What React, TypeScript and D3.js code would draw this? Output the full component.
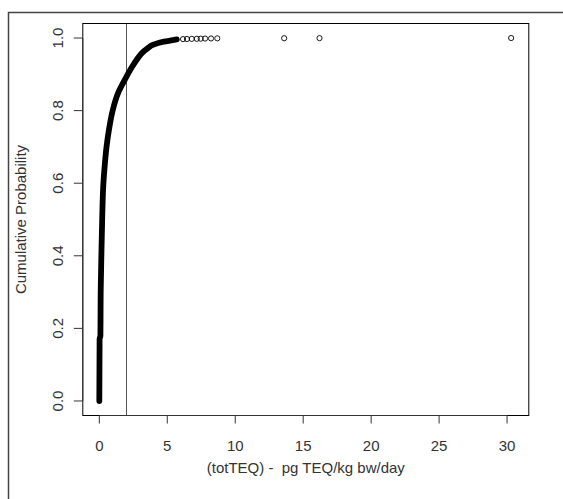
import React from "react";
import * as d3 from "d3";

const curveX = [0.0, 0.02, 0.08, 0.1, 0.15, 0.21, 0.3, 0.4, 0.53, 0.72, 0.98, 1.4, 1.89, 2.4, 2.75, 3.15, 3.5, 4.0, 4.75, 5.4, 5.7];
const curveP = [0.0, 0.17, 0.18, 0.3, 0.4, 0.5, 0.6, 0.65, 0.7, 0.75, 0.8, 0.85, 0.886, 0.92, 0.94, 0.959, 0.97, 0.982, 0.99, 0.994, 0.996];

// Isolated upper-tail observations
const tailX = [6.16, 6.45, 6.8, 7.17, 7.46, 7.78, 8.22, 8.68, 13.6, 16.2, 30.3];
const tailP = [0.997, 0.9973, 0.9976, 0.9979, 0.9982, 0.9985, 0.9988, 0.9991, 0.9994, 0.9997, 1.0];

const refLineX = 2;
const xTicks = [0, 5, 10, 15, 20, 25, 30];
const yTicks = [0, 0.2, 0.4, 0.6, 0.8, 1.0];
const xTitle = "(totTEQ) -  pg TEQ/kg bw/day";
const yTitle = "Cumulative Probability";

export default function App() {
  const W = 563, H = 499;
  const left = 82.8, right = 528.8, top = 23.5, bottom = 415.5;
  const xMin = -1.216, xMax = 31.6;
  const x = d3.scaleLinear().domain([xMin, xMax]).range([left, right]);
  const y = d3.scaleLinear().domain([-0.04, 1.04]).range([bottom, top]);
  const line = d3
    .line<number>()
    .x((_, i) => x(curveX[i]))
    .y((d) => y(d))
    .curve(d3.curveMonotoneY);
  const font = "'Liberation Sans', Arial, sans-serif";
  const textColor = "#333";
  const fs = 15;
  return (
    <svg
      width={W}
      height={H}
      style={{ position: "absolute", left: 0, top: 0, background: "#fff" }}
      fontFamily={font}
    >
      <rect x={0} y={0} width={W} height={H} fill="#fff" />
      {/* outer frame */}
      <path d={`M8.5,${H} L8.5,12.5 L${W},12.5`} fill="none" stroke="#444" strokeWidth={1.5} />
      {/* reference line */}
      <line x1={x(refLineX)} x2={x(refLineX)} y1={top} y2={bottom} stroke="#555" strokeWidth={1} />
      {/* ECDF dense part */}
      <path d={line(curveP) || ""} fill="none" stroke="#000" strokeWidth={5.8} strokeLinecap="round" strokeLinejoin="round" />
      {tailX.map((v, i) => (
        <circle key={i} cx={x(v)} cy={y(tailP[i])} r={2.6} fill="none" stroke="#000" strokeWidth={0.9} />
      ))}
      {/* box */}
      <rect x={left} y={top} width={right - left} height={bottom - top} fill="none" stroke="#000" strokeWidth={1} />
      {/* x axis */}
      <line x1={x(xTicks[0])} x2={x(xTicks[xTicks.length - 1])} y1={bottom} y2={bottom} stroke="#333" />
      {xTicks.map((t) => (
        <g key={t}>
          <line x1={x(t)} x2={x(t)} y1={bottom} y2={bottom + 8} stroke="#333" />
          <text x={x(t)} y={445} fontSize={fs} textAnchor="middle" dominantBaseline="central" fill={textColor}>
            {t}
          </text>
        </g>
      ))}
      {/* y axis */}
      <line x1={left} x2={left} y1={y(0)} y2={y(1)} stroke="#333" />
      {yTicks.map((t) => (
        <g key={t}>
          <line x1={left} x2={left - 9} y1={y(t)} y2={y(t)} stroke="#333" />
          <text
            transform={`translate(57.5,${y(t)}) rotate(-90)`}
            fontSize={fs}
            textAnchor="middle"
            dominantBaseline="central"
            fill={textColor}
          >
            {t.toFixed(1)}
          </text>
        </g>
      ))}
      <text
        x={(left + right) / 2}
        y={467}
        fontSize={fs}
        textAnchor="middle"
        dominantBaseline="central"
        fill={textColor}
        style={{ whiteSpace: "pre" }}
      >
        {xTitle}
      </text>
      <text
        transform={`translate(20,${(top + bottom) / 2}) rotate(-90)`}
        fontSize={fs}
        textAnchor="middle"
        dominantBaseline="central"
        fill={textColor}
      >
        {yTitle}
      </text>
    </svg>
  );
}
